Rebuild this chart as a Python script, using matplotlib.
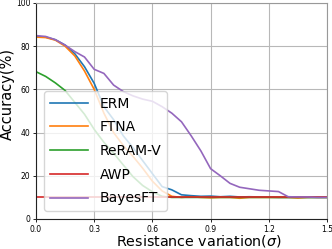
import matplotlib
matplotlib.use("Agg")
import matplotlib.pyplot as plt

sigma = [0.0, 0.05, 0.1, 0.15, 0.2, 0.25, 0.3, 0.35, 0.4, 0.45, 0.5, 0.55, 0.6, 0.65, 0.7,
         0.75, 0.8, 0.85, 0.9, 0.95, 1.0, 1.05, 1.1, 1.15, 1.2, 1.25, 1.3, 1.35, 1.4, 1.45, 1.5]

erm = [84.5, 84.2, 83.0, 80.5, 76.5, 70.5, 62.8, 52.0, 46.0, 38.5, 33.0, 27.0, 21.0, 15.0, 13.5,
       11.2, 10.8, 10.5, 10.6, 10.3, 10.5, 10.2, 10.3, 10.2, 10.1, 10.0, 10.0, 10.0, 10.0, 10.0, 10.0]
ftna = [84.2, 84.0, 82.8, 80.0, 75.5, 68.5, 60.0, 49.0, 40.0, 34.0, 29.0, 23.5, 17.5, 13.0, 10.5,
        10.0, 10.3, 10.0, 9.8, 10.0, 10.0, 9.6, 10.0, 10.0, 10.0, 10.0, 10.0, 9.7, 10.0, 10.0, 10.0]
reram_v = [68.2, 66.0, 63.0, 59.5, 54.0, 48.5, 41.5, 35.5, 30.5, 25.0, 19.6, 15.5, 12.6, 10.5, 10.0,
           10.0, 10.0, 10.0, 10.0, 10.0, 10.0, 10.0, 10.0, 10.0, 10.0, 10.0, 10.0, 10.0, 10.0, 10.0, 10.0]
awp = [10.0] * 31
bayesft = [84.9, 84.5, 83.0, 80.5, 77.5, 75.0, 69.3, 67.4, 62.0, 59.0, 57.0, 55.5, 54.5, 52.0, 49.0,
           45.0, 38.5, 31.5, 23.3, 20.0, 16.5, 14.7, 14.0, 13.3, 13.0, 12.7, 10.3, 10.2, 10.2, 10.0, 10.0]

series = [("ERM", erm, "#1f77b4"), ("FTNA", ftna, "#ff7f0e"), ("ReRAM-V", reram_v, "#2ca02c"),
          ("AWP", awp, "#d62728"), ("BayesFT", bayesft, "#9467bd")]
xticks = [0.0, 0.3, 0.6, 0.9, 1.2, 1.5]
yticks = [0, 20, 40, 60, 80, 100]

fig = plt.figure(figsize=(3.32, 2.49), dpi=100)
ax = fig.add_axes([36/332, 1-219/249, 291/332, 216/249])

for name, vals, col in series:
    ax.plot(sigma, vals, color=col, lw=1.2, label=name)

ax.set_xlim(0, 1.5)
ax.set_ylim(0, 100)
ax.set_xticks(xticks)
ax.set_xticklabels([f"{t:.1f}" for t in xticks])
ax.set_yticks(yticks)
ax.tick_params(labelsize=5.5, length=2.5, width=0.6, pad=1.5)
ax.grid(True, color="#b8b8b8", lw=0.8)
for s in ["top", "right"]:
    ax.spines[s].set_color("#999999")
for s in ["left", "bottom"]:
    ax.spines[s].set_color("#222222")

ax.set_xlabel(r"Resistance variation($\sigma$)", fontsize=10.3)
ax.set_ylabel("Accuracy(%)", fontsize=10.5)
ax.xaxis.set_label_coords(0.56, -0.064)
ax.yaxis.set_label_coords(-0.072, 0.579)

leg = ax.legend(loc="lower left", bbox_to_anchor=(0.0275, 0.037), borderaxespad=0,
                fontsize=10, handlelength=2.8, labelspacing=0.7, fancybox=True)

fig.savefig("out.png", dpi=100)
